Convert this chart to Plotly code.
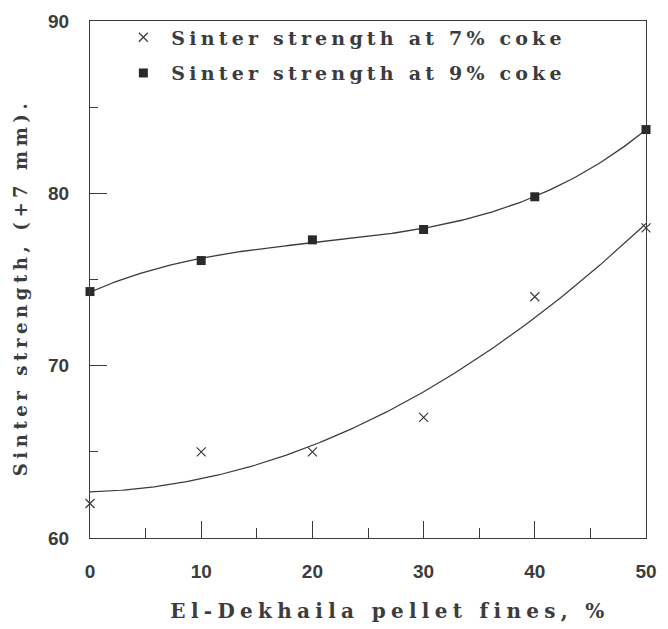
import numpy as np
import plotly.graph_objects as go

# Data
pellet_fines = [0, 10, 20, 30, 40, 50]
strength_7 = [62.0, 65.0, 65.0, 67.0, 74.0, 78.0]
strength_9 = [74.3, 76.1, 77.3, 77.9, 79.8, 83.7]
x_ticks = [0, 10, 20, 30, 40, 50]
y_ticks = [60, 70, 80, 90]

# Smooth fitted curves (polynomial regression of the data)
xs = np.linspace(0, 50, 200)
fit7 = np.polyval(np.polyfit(pellet_fines, strength_7, 2), xs)
fit9 = np.polyval(np.polyfit(pellet_fines, strength_9, 3), xs)

ink = "#3a3a3a"
txt = "#3c3c3c"
fig = go.Figure()
fig.add_trace(go.Scatter(x=xs, y=fit9, mode="lines", line=dict(color=ink, width=1.3),
                         showlegend=False, hoverinfo="skip", cliponaxis=False))
fig.add_trace(go.Scatter(x=xs, y=fit7, mode="lines", line=dict(color=ink, width=1.2),
                         showlegend=False, hoverinfo="skip", cliponaxis=False))
fig.add_trace(go.Scatter(x=pellet_fines, y=strength_7, mode="markers",
                         name="<b>Sinter strength at 7% coke</b>", legendgroup="a",
                         marker=dict(symbol="x-thin-open", size=9, color=ink,
                                     line=dict(color=ink, width=1.2)),
                         cliponaxis=False))
fig.add_trace(go.Scatter(x=pellet_fines, y=strength_9, mode="markers",
                         name="<b>Sinter strength at 9% coke</b>", legendgroup="b",
                         marker=dict(symbol="square", size=9, color="#2a2a2a"),
                         cliponaxis=False))

axis_common = dict(showgrid=False, zeroline=False, showline=True, linecolor=ink, linewidth=1.3,
                   mirror=True, ticks="inside", tickcolor=ink, tickwidth=1.3, ticklen=17,
                   ticklabelstandoff=16,
                   tickfont=dict(family="Liberation Sans", size=19, color=txt, weight="bold"))
fig.update_xaxes(range=[0, 50], tickvals=x_ticks, ticktext=[str(v) for v in x_ticks],
                 minor=dict(dtick=5, ticks="inside", ticklen=10, tickcolor=ink, tickwidth=1.2),
                 title=dict(text="<b>El-Dekhaila pellet fines, %</b>", standoff=20,
                            font=dict(family="DejaVu Serif", size=20, color=txt)),
                 **axis_common)
fig.update_yaxes(range=[60, 90], tickvals=y_ticks, ticktext=[str(v) for v in y_ticks],
                 minor=dict(dtick=5, ticks="inside", ticklen=8, tickcolor=ink, tickwidth=1.2),
                 title=dict(text="<b>Sinter strength, (+7 mm).</b>", standoff=2,
                            font=dict(family="DejaVu Serif", size=18, color=txt)),
                 **axis_common)
fig.update_layout(
    width=668, height=629,
    margin=dict(l=90, r=11, t=13, b=91),
    paper_bgcolor="white", plot_bgcolor="white",
    font=dict(family="DejaVu Serif", color=txt),
    legend=dict(x=0.06, y=1.005, xanchor="left", yanchor="top", bgcolor="rgba(0,0,0,0)",
                font=dict(family="DejaVu Serif", size=19, color=txt), itemsizing="trace",
                tracegroupgap=8, entrywidth=480, entrywidthmode="pixels"),
)
css = (".legendtext{letter-spacing:4.2px;transform:translateX(8px)}"
       ".legend .scrollbox{clip-path:none !important}"
       ".xtitle{letter-spacing:5.3px}"
       ".g-xtitle{transform:translate(22px,3px)}"
       ".ytitle{letter-spacing:4.6px}"
       ".g-ytitle{transform:translate(-13px,8px)}")
post = ("var s=document.createElement('style');s.textContent='" + css +
        "';document.head.appendChild(s);")
fig.write_html("out.html", post_script=post)
